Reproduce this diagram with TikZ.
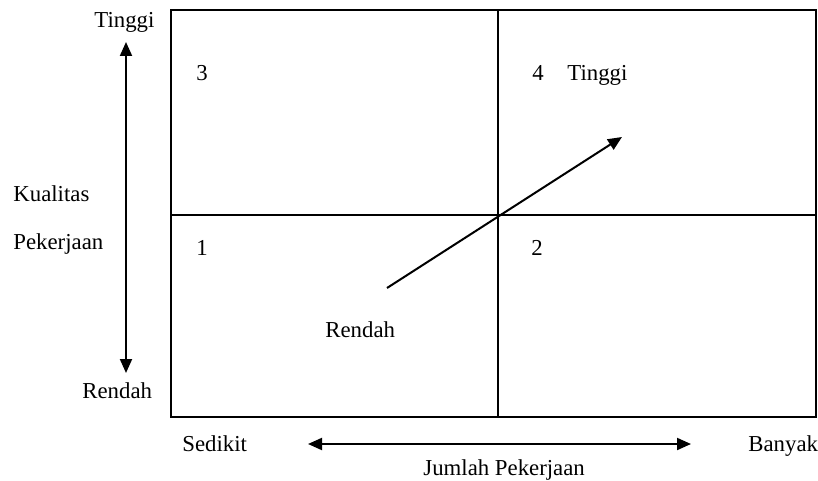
\documentclass[tikz,border=0pt]{standalone}
\usepackage{fontspec}
\setmainfont{Liberation Serif}
\usetikzlibrary{arrows.meta}
\begin{document}
\begin{tikzpicture}[x=0.5pt, y=-0.5pt, >={Triangle[length=7pt, width=6pt]}, font=\fontsize{11.4}{13}\selectfont,
	lbl/.style={anchor=base west, inner sep=0pt}]
	\useasboundingbox (0,0) rectangle (818,481);
	% --- kotak dan kuadran ---
	\draw[line width=0.7pt] (171,10) rectangle (816,417);
	\draw[line width=0.7pt] (498,10) -- (498,417);
	\draw[line width=0.7pt] (171,215) -- (816,215);

	% --- sumbu kiri: kualitas ---
	\node[lbl] (ytop) at (94,28) {Tinggi};
	\node[lbl] (ybot) at (82,398) {Rendah};
	\coordinate (yA) at (126,42);
	\coordinate (yB) at (126,373);
	\draw[<->, line width=1pt] (yA) -- (yB);
	\node[lbl] (kual) at (13,201) {Kualitas};
	\node[lbl] (pek) at (13,249) {Pekerjaan};

	% --- sumbu bawah: jumlah ---
	\node[lbl] (xleft) at (182,451) {Sedikit};
	\node[lbl] (xright) at (748,451) {Banyak};
	\coordinate (xA) at (308,444);
	\coordinate (xB) at (691,444);
	\draw[<->, line width=1pt] (xA) -- (xB);
	\node[lbl] (jml) at (423,475) {Jumlah Pekerjaan};

	% --- nomor kuadran ---
	\node[lbl] (q3) at (196,81) {3};
	\node[lbl] (q4) at (532,81) {4};
	\node[lbl] (q1) at (196,255) {1};
	\node[lbl] (q2) at (531,255) {2};
	\node[lbl] (hi) at (567,81) {Tinggi};
	\node[lbl] (lo) at (325,337) {Rendah};

	% --- arah perubahan ---
	\coordinate (dA) at (387,288);
	\coordinate (dB) at (622,137);
	\draw[->, line width=1pt] (dA) -- (dB);
\end{tikzpicture}
\end{document}
